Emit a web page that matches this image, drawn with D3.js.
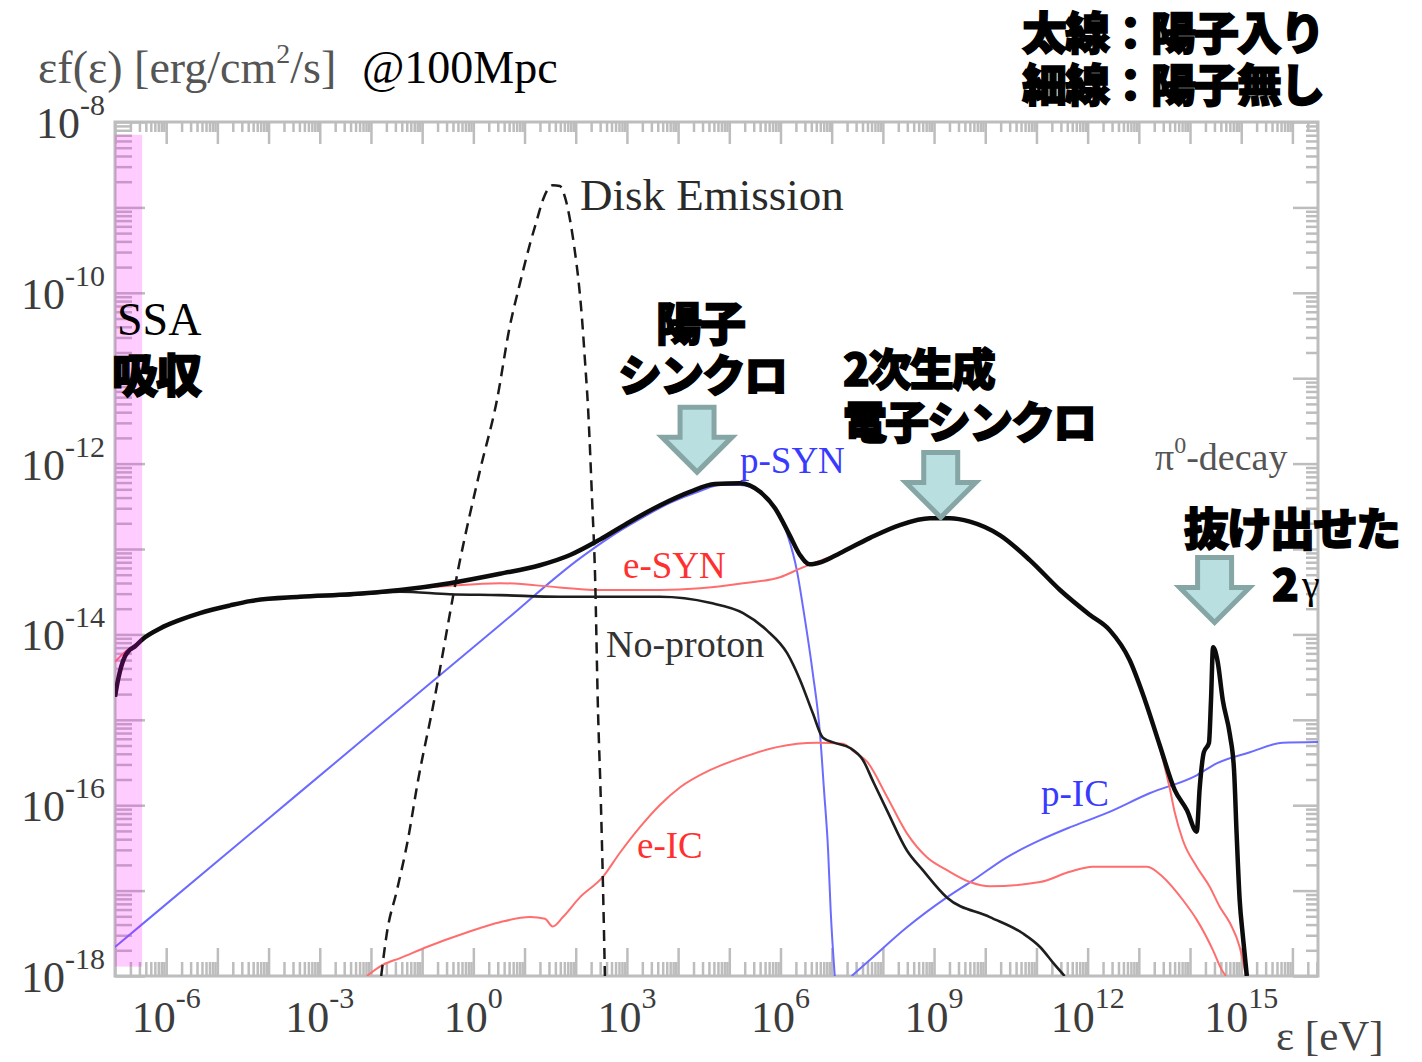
<!DOCTYPE html>
<html>
<head>
<meta charset="utf-8">
<script src="https://cdn.jsdelivr.net/npm/d3@7"></script>
<style>
  html, body { margin: 0; padding: 0; background: #fff; }
  svg { display: block; }
  .serif { font-family: "Liberation Serif", "Times New Roman", serif; }
  .jp { font-family: "Noto Sans CJK JP", sans-serif; font-weight: 900; }
</style>
</head>
<body>
<svg id="chart" width="1422" height="1062"></svg>
<script>
// ---- Spectral components: log10(E / eV) and log10(εf(ε) / erg cm^-2 s^-1) ----

// Total spectrum including protons (thick black)
const totalLogE = [-7.00, -6.94, -6.88, -6.80, -6.71, -6.61, -6.45, -6.12, -5.73, -5.34, -4.75, -4.36, -3.39, -2.41, -1.43, -0.46, 0.52, 1.30, 1.89, 2.47, 3.06, 3.64, 4.23, 4.72, 5.21, 5.60, 5.89, 6.18, 6.38, 6.57, 6.81, 7.16, 7.75, 8.33, 8.92, 9.31, 9.70, 10.29, 10.87, 11.46, 12.04, 12.43, 12.82, 13.12, 13.41, 13.70, 13.94, 14.13, 14.19, 14.27, 14.37, 14.41, 14.45, 14.54, 14.64, 14.78, 14.86, 14.91, 14.97, 15.03, 15.11];
const totalLogF = [-14.73, -14.53, -14.38, -14.25, -14.18, -14.14, -14.05, -13.93, -13.83, -13.75, -13.66, -13.61, -13.56, -13.53, -13.48, -13.40, -13.29, -13.19, -13.07, -12.89, -12.68, -12.49, -12.33, -12.24, -12.23, -12.33, -12.52, -12.84, -13.07, -13.18, -13.15, -13.05, -12.87, -12.72, -12.64, -12.64, -12.68, -12.84, -13.13, -13.48, -13.77, -13.95, -14.30, -14.77, -15.30, -15.82, -16.06, -16.31, -15.79, -15.38, -15.27, -14.77, -14.15, -14.32, -14.77, -15.18, -15.59, -16.33, -17.11, -17.52, -18.00];

// Total spectrum without protons (thin black, "No-proton")
const noProtonLogE = [-7.00, -6.94, -6.88, -6.80, -6.71, -6.61, -6.45, -6.12, -5.73, -5.34, -4.75, -4.36, -3.39, -2.41, -1.43, -0.46, 0.52, 1.69, 3.64, 4.62, 5.27, 5.73, 6.13, 6.38, 6.63, 6.83, 7.06, 7.36, 7.61, 7.80, 8.08, 8.47, 8.78, 9.25, 10.09, 10.73, 11.07, 11.36, 11.55];
const noProtonLogF = [-14.73, -14.53, -14.38, -14.25, -14.18, -14.14, -14.05, -13.93, -13.83, -13.75, -13.66, -13.61, -13.56, -13.54, -13.50, -13.53, -13.54, -13.56, -13.56, -13.63, -13.75, -13.95, -14.22, -14.53, -14.92, -15.21, -15.27, -15.33, -15.47, -15.71, -16.06, -16.53, -16.76, -17.08, -17.31, -17.50, -17.66, -17.87, -18.00];

// Electron synchrotron (red)
const eSynLogE = [-7.00, -6.90, -6.77, -6.61, -6.45, -6.12, -5.34, -4.36, -3.39, -2.41, -1.43, -0.46, 0.52, 1.69, 2.47, 3.64, 4.43, 5.27, 5.99, 6.38, 6.67, 7.16, 7.75, 8.33, 8.92, 9.31, 9.70, 10.29, 10.87, 11.46, 12.04, 12.43, 12.82, 13.12, 13.41, 13.61, 13.70, 13.86, 14.13, 14.39, 14.58, 14.78, 14.97, 15.05, 15.09];
const eSynLogF = [-14.32, -14.26, -14.19, -14.14, -14.05, -13.93, -13.75, -13.61, -13.56, -13.53, -13.48, -13.43, -13.40, -13.45, -13.48, -13.48, -13.46, -13.40, -13.33, -13.23, -13.16, -13.05, -12.87, -12.72, -12.64, -12.64, -12.68, -12.84, -13.13, -13.48, -13.77, -13.95, -14.30, -14.77, -15.33, -15.82, -16.08, -16.41, -16.72, -16.96, -17.19, -17.38, -17.66, -17.87, -18.00];

// Electron inverse Compton (red)
const eIcLogE = [-2.08, -1.77, -1.43, -0.91, -0.13, 0.52, 1.11, 1.40, 1.55, 1.75, 2.08, 2.53, 2.86, 3.25, 3.64, 4.04, 4.62, 5.21, 5.93, 6.71, 7.22, 7.45, 7.69, 8.08, 8.47, 8.86, 9.25, 9.70, 10.09, 11.07, 11.65, 12.10, 13.16, 13.47, 13.86, 14.13, 14.45, 14.62, 14.70];
const eIcLogF = [-18.00, -17.87, -17.79, -17.66, -17.49, -17.37, -17.31, -17.33, -17.42, -17.31, -17.08, -16.84, -16.56, -16.26, -16.00, -15.79, -15.59, -15.45, -15.32, -15.27, -15.28, -15.38, -15.49, -15.90, -16.33, -16.61, -16.76, -16.90, -16.95, -16.90, -16.78, -16.72, -16.72, -16.84, -17.11, -17.34, -17.70, -17.93, -18.00];

// Proton synchrotron (blue)
const pSynLogE = [-7.00, -3.39, 0.52, 2.08, 2.67, 3.25, 3.84, 4.43, 4.82, 5.21, 5.60, 5.89, 6.14, 6.32, 6.44, 6.63, 6.77, 6.85, 6.93, 6.98, 7.06];
const pSynLogF = [-17.66, -15.85, -13.89, -13.11, -12.86, -12.65, -12.46, -12.32, -12.25, -12.25, -12.34, -12.52, -12.84, -13.25, -13.68, -14.45, -15.15, -15.82, -16.53, -17.23, -18.00];

// Proton inverse Compton (blue)
const pIcLogE = [7.39, 7.75, 8.47, 9.25, 9.76, 10.42, 11.07, 11.65, 12.38, 13.21, 14.13, 14.52, 15.17, 15.81, 16.50];
const pIcLogF = [-18.00, -17.81, -17.43, -17.08, -16.88, -16.61, -16.41, -16.26, -16.09, -15.86, -15.65, -15.51, -15.38, -15.27, -15.26];

// Accretion disk thermal emission (dashed black)
const diskLogE = [-1.80, -1.69, -1.49, -1.28, -1.08, -0.79, -0.26, 0.13, 0.46, 0.71, 0.91, 1.11, 1.24, 1.36, 1.55, 1.69, 1.79, 1.89, 1.98, 2.06, 2.12, 2.18, 2.24, 2.32, 2.38, 2.43, 2.49, 2.53, 2.57];
const diskLogF = [-18.00, -17.50, -16.99, -16.41, -15.71, -14.85, -13.13, -12.08, -11.26, -10.40, -9.89, -9.42, -9.15, -8.91, -8.74, -8.75, -8.88, -9.15, -9.50, -9.89, -10.28, -10.79, -11.34, -12.43, -13.36, -14.77, -15.94, -16.88, -18.00];

// Axis decades and tick labels
const xDecadesLabeled = [-6, -3, 0, 3, 6, 9, 12, 15];
const yDecadesLabeled = [-8, -10, -12, -14, -16, -18];

// Arrow tips (log10 E, log10 F): proton synchrotron, secondary-electron synchrotron, escaping 2γ
const arrowLogE = [4.37, 9.13, 14.48];
const arrowLogF = [-12.10, -12.63, -13.86];

// Synchrotron self-absorption band (log10 E range)
const ssaLogE = [-7.0, -6.47];

// ---------------------------------------------------------------------
const svg = d3.select("#chart");
const x = d3.scaleLog().domain([1e-7, Math.pow(10, 16.5)]).range([115, 1318]);
const y = d3.scaleLog().domain([1e-18, 1e-8]).range([976, 122]);

const zip = (le, lf) => le.map((e, i) => [Math.pow(10, e), Math.pow(10, lf[i])]);

const AXIS = "#bdbdbd";

// minor log ticks (2..9 × 10^d) inside a domain
function minorTicks(lo, hi, dMin, dMax) {
  const v = [];
  for (let d = lo; d <= hi; d++) for (let k = 2; k <= 9; k++) {
    const t = k * Math.pow(10, d);
    if (t >= dMin * 0.999 && t <= dMax * 1.001) v.push(t);
  }
  return v;
}
const xMajor = d3.range(-7, 17).map(d => Math.pow(10, d));
const xMinor = minorTicks(-7, 16, 1e-7, Math.pow(10, 16.5));
const yMajor = d3.range(-18, -7).map(d => Math.pow(10, d));
const yMinor = minorTicks(-18, -9, 1e-18, 1e-8);

function tickLayer(gen, values, size, transform) {
  const g = svg.append("g").attr("transform", transform)
    .call(gen.tickValues(values).tickSize(size).tickFormat(() => ""));
  g.select(".domain").remove();
  g.selectAll("text").remove();
  g.selectAll("line").attr("stroke", AXIS).attr("stroke-width", 2.5);
}

const [px0, px1] = x.range();
const [py0, py1] = y.range(); // bottom, top

// axis ticks: bottom (up), top (down), left (right), right (left)
tickLayer(d3.axisBottom(x), xMajor, -28, `translate(0,${py0})`);
tickLayer(d3.axisBottom(x), xMinor, -14, `translate(0,${py0})`);
tickLayer(d3.axisTop(x), xMajor, -22, `translate(0,${py1})`);
tickLayer(d3.axisTop(x), xMinor, -10, `translate(0,${py1})`);
tickLayer(d3.axisLeft(y), yMajor, -30, `translate(${px0},0)`);
tickLayer(d3.axisLeft(y), yMinor, -17, `translate(${px0},0)`);
tickLayer(d3.axisRight(y), yMajor, -25, `translate(${px1},0)`);
tickLayer(d3.axisRight(y), yMinor, -12, `translate(${px1},0)`);

// frame
svg.append("rect")
  .attr("x", px0).attr("y", py1).attr("width", px1 - px0).attr("height", py0 - py1)
  .attr("fill", "none").attr("stroke", AXIS).attr("stroke-width", 3);

// clip for curves
svg.append("clipPath").attr("id", "plotClip").append("rect")
  .attr("x", px0).attr("y", py1).attr("width", px1 - px0).attr("height", py0 - py1);

const line = d3.line().x(d => x(d[0])).y(d => y(d[1])).curve(d3.curveMonotoneX);
const curves = svg.append("g").attr("clip-path", "url(#plotClip)");

function drawCurve(le, lf, color, width, dash) {
  curves.append("path")
    .datum(zip(le, lf))
    .attr("d", line)
    .attr("fill", "none")
    .attr("stroke", color)
    .attr("stroke-width", width)
    .attr("stroke-linejoin", "round")
    .attr("stroke-dasharray", dash || null);
}

drawCurve(pSynLogE, pSynLogF, "#6b6bff", 2);
drawCurve(pIcLogE, pIcLogF, "#6b6bff", 2);
drawCurve(eIcLogE, eIcLogF, "#ff6e6e", 2);
drawCurve(eSynLogE, eSynLogF, "#ff6e6e", 2);
drawCurve(diskLogE, diskLogF, "#1a1a1a", 2.5, "11,7");
drawCurve(noProtonLogE, noProtonLogF, "#1e1e1e", 2.6);
drawCurve(totalLogE, totalLogF, "#0c0c0c", 4.5);

// synchrotron self-absorption band
svg.append("rect")
  .attr("x", x(Math.pow(10, ssaLogE[0])))
  .attr("width", x(Math.pow(10, ssaLogE[1])) - x(Math.pow(10, ssaLogE[0])))
  .attr("y", y(Math.pow(10, -8.15)))
  .attr("height", y(Math.pow(10, -17.89)) - y(Math.pow(10, -8.15)))
  .attr("fill", "#ff00ff").attr("opacity", 0.2);

// ---- tick labels ----
const LABEL = "#3c3c3c";
xDecadesLabeled.forEach(d => {
  const t = svg.append("text").attr("class", "serif")
    .attr("x", x(Math.pow(10, d))).attr("y", 1032)
    .attr("text-anchor", "middle").attr("fill", LABEL).attr("font-size", 44);
  t.append("tspan").text("10");
  t.append("tspan").attr("font-size", 30).attr("dy", -24).text(d < 0 ? "-" + (-d) : String(d));
});
yDecadesLabeled.forEach(d => {
  const t = svg.append("text").attr("class", "serif")
    .attr("x", 105).attr("y", y(Math.pow(10, d)) + 16)
    .attr("text-anchor", "end").attr("fill", LABEL).attr("font-size", 44);
  t.append("tspan").text("10");
  t.append("tspan").attr("font-size", 30).attr("dy", -23).text("-" + (-d));
});

// axis titles
const title = svg.append("text").attr("class", "serif")
  .attr("x", 38).attr("y", 83).attr("font-size", 46).attr("fill", "#555");
title.append("tspan").text("εf(ε) [erg/cm");
title.append("tspan").attr("font-size", 28).attr("dy", -20).text("2");
title.append("tspan").attr("dy", 20).text("/s]");
svg.append("text").attr("class", "serif")
  .attr("x", 362).attr("y", 83).attr("font-size", 46).attr("fill", "#000").text("@100Mpc");

svg.append("text").attr("class", "serif")
  .attr("x", 1276).attr("y", 1050).attr("font-size", 43).attr("fill", "#444").text("ε [eV]");

// ---- component labels ----
function label(txt, px, py, color, size) {
  return svg.append("text").attr("class", "serif")
    .attr("x", px).attr("y", py).attr("font-size", size).attr("fill", color).text(txt);
}
label("Disk Emission", 580, 210, "#2a2a2a", 45);
label("e-SYN", 623, 578, "#ff3030", 37);
label("No-proton", 606, 657, "#333", 38);
label("p-SYN", 740, 473, "#3a3aff", 37);
label("e-IC", 637, 858, "#ff3030", 37);
label("p-IC", 1041, 806, "#3a3aff", 37);
const pi0 = label("π", 1155, 470, "#555", 38);
pi0.append("tspan").attr("font-size", 24).attr("dy", -17).text("0");
pi0.append("tspan").attr("dy", 17).text("-decay");
label("SSA", 117, 335, "#000", 46);

// ---- arrows ----
const arrowShape = [[-17, -65], [17, -65], [17, -35], [35, -35], [0, 0], [-35, -35], [-17, -35]];
arrowLogE.forEach((le, i) => {
  const tx = x(Math.pow(10, le)), ty = y(Math.pow(10, arrowLogF[i]));
  svg.append("polygon")
    .attr("points", arrowShape.map(p => [tx + p[0], ty + p[1]].join(",")).join(" "))
    .attr("fill", "#b9dfe1").attr("stroke", "#86a6a6").attr("stroke-width", 5)
    .attr("stroke-linejoin", "miter");
});

// ---- Japanese annotations ----
function jp(txt, px, py, size, anchor) {
  return svg.append("text").attr("class", "jp")
    .attr("x", px).attr("y", py).attr("font-size", size)
    .attr("text-anchor", anchor || "start")
    .attr("fill", "#000").attr("stroke", "#000").attr("stroke-width", 1.5)
    .attr("letter-spacing", -2).text(txt);
}
jp("太線：陽子入り", 1022, 50, 45);
jp("細線：陽子無し", 1022, 102, 45);
jp("吸収", 112, 392, 46);
jp("陽子", 700, 340, 46, "middle");
jp("シンクロ", 702, 392, 44, "middle");
jp("2次生成", 843, 386, 44);
jp("電子シンクロ", 843, 439, 44);
jp("抜け出せた", 1184, 546, 45);
jp("2", 1272, 601, 44);
label("γ", 1302, 598, "#000", 40);
</script>
</body>
</html>
